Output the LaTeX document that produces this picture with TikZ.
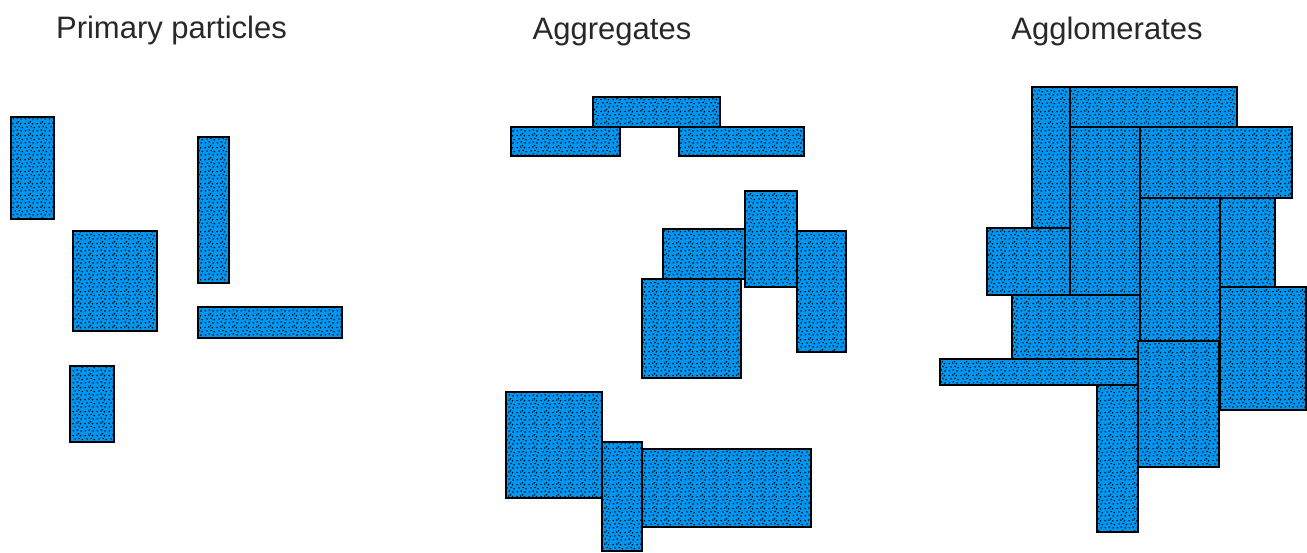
\documentclass[tikz,border=0pt]{standalone}
\usepackage{fontspec}
\setmainfont{Liberation Sans}
\definecolor{GrainBlue}{RGB}{0, 150, 240}
\definecolor{LabelGray}{RGB}{40, 40, 40}
\usetikzlibrary{patterns.meta}

\tikzdeclarepattern{
  name=stipple,
  type=uncolored,
  bounding box={(0pt,0pt) and (12pt,12pt)},
  tile size={(12pt,12pt)},
  code={
    \fill (1.5pt,1.3pt) circle (0.9pt);
    \fill (5.6pt,2.2pt) circle (0.9pt);
    \fill (9.7pt,1.1pt) circle (0.9pt);
    \fill (3.3pt,5.4pt) circle (0.9pt);
    \fill (7.6pt,5.9pt) circle (0.9pt);
    \fill (10.8pt,4.6pt) circle (0.9pt);
    \fill (1.2pt,9.0pt) circle (0.9pt);
    \fill (5.2pt,9.6pt) circle (0.9pt);
    \fill (9.1pt,8.8pt) circle (0.9pt);
    \fill (7.0pt,11.0pt) circle (0.9pt);
  }
}

\begin{document}
\begin{tikzpicture}[
    x=1pt, y=-1pt,
    titlu/.style={anchor=base, text=LabelGray, font=\fontsize{31}{31}\selectfont},
    grain/.style={preaction={fill=GrainBlue}, pattern=stipple, pattern color=black,
                  draw=black, line width=1.8pt}
]
\useasboundingbox (0,0) rectangle (1307,552);

\node[titlu] (tprim) at (171.5,38) {Primary particles};
\node[titlu] (tagr) at (612,39) {Aggregates};
\node[titlu] (tagl) at (1107,39) {Agglomerates};

% primary particles
\draw[grain] (11,117) rectangle (54,219);
\draw[grain] (73,231) rectangle (157,331);
\draw[grain] (198,137) rectangle (229,283);
\draw[grain] (198,307) rectangle (342,338);
\draw[grain] (70,366) rectangle (114,442);

% aggregates
\draw[grain] (593,97) rectangle (720,127);
\draw[grain] (511,127) rectangle (620,156);
\draw[grain] (679,127) rectangle (804,156);
\draw[grain] (663,229) rectangle (745,279);
\draw[grain] (745,191) rectangle (797,287);
\draw[grain] (797,231) rectangle (846,352);
\draw[grain] (642,279) rectangle (741,378);
\draw[grain] (506,392) rectangle (602,498);
\draw[grain] (642,449) rectangle (811,527);
\draw[grain] (602,442) rectangle (642,551);

% agglomerates
\draw[grain] (1032,87) rectangle (1070,228);
\draw[grain] (1070,87) rectangle (1237,127);
\draw[grain] (1070,127) rectangle (1140,295);
\draw[grain] (1140,127) rectangle (1292,198);
\draw[grain] (987,228) rectangle (1070,295);
\draw[grain] (1140,198) rectangle (1220,341);
\draw[grain] (1220,198) rectangle (1275,287);
\draw[grain] (1220,287) rectangle (1306,410);
\draw[grain] (1012,295) rectangle (1140,359);
\draw[grain] (940,359) rectangle (1138,385);
\draw[grain] (1138,341) rectangle (1219,467);
\draw[grain] (1097,385) rectangle (1138,532);
\end{tikzpicture}
\end{document}
